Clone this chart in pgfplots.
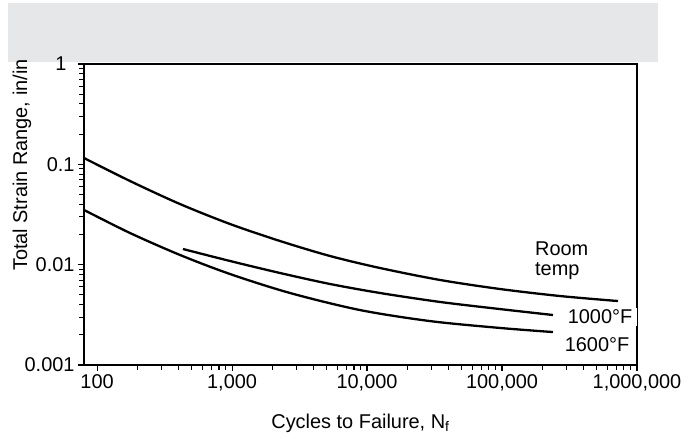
\documentclass[border=0pt]{standalone}
\usepackage{fontspec}
\setmainfont{Liberation Sans}
\usepackage{pgfplots}
\pgfplotsset{compat=1.18}
\definecolor{band}{HTML}{E6E7E8}
\begin{document}
\begin{tikzpicture}[font=\fontsize{20}{22}\selectfont]
\useasboundingbox (-84bp,-74bp) rectangle (615bp,365bp);
\fill[band] (-76bp,303bp) rectangle (574bp,362bp);
\begin{axis}[
  at={(0,0)}, anchor=south west,
  scale only axis, width=553bp, height=301bp,
  xmode=log, ymode=log,
  xmin=80, xmax=1e6, ymin=0.001, ymax=1,
  axis line style={line width=2bp},
  tick align=outside, xtick pos=left, ytick pos=left,
  major tick length=6bp, minor tick length=5bp,
  tick style={black, line width=1.1bp},
  xtick={100,1000,10000,100000,1000000},
  xticklabels={100,{1,000},{10,000},{100,000},{1,000,000}},
  ytick={0.001,0.01,0.1,1},
  yticklabels={0.001,0.01,0.1,{1\hspace*{8bp}}},
  xlabel={Cycles to Failure, N\textsubscript{f}},
  ylabel={Total Strain Range, in/in},
  xlabel style={at={(axis description cs:0.5,-0.195)}, anchor=center},
  ylabel style={at={(axis description cs:-0.112,0.664)}, anchor=center},
  clip=false,
]
\addplot[black, line width=2.3bp, smooth] coordinates {
(80,0.1156) (175.4,0.0682) (411.6,0.0402) (965.4,0.02543) (2266,0.01721)
(5316,0.01220) (12480,0.00926) (34720,0.00704) (96600,0.00572)
(268800,0.00487) (723000,0.00434)};
\addplot[black, line width=2.3bp, smooth] coordinates {
(433,0.01432) (965.4,0.01088) (2266,0.00826) (5316,0.00642) (12480,0.00522)
(34720,0.00425) (96600,0.00361) (238500,0.00315)};
\addplot[black, line width=2.3bp, smooth] coordinates {
(80,0.0351) (175.4,0.02068) (411.6,0.01249) (965.4,0.00807) (2687,0.00522)
(8868,0.00353) (29270,0.00274) (96600,0.00234) (238500,0.00213)};
\node[anchor=west, align=left, inner sep=0pt, font=\fontsize{20}{20}\selectfont] at (axis cs:175500,0.01088) {Room\\temp};
\node[fill=white, inner xsep=5bp, inner ysep=2bp] at (axis cs:531900,0.00301) {1000°F};
\node[inner sep=1bp] at (axis cs:505400,0.001582) {1600°F};
\end{axis}
\end{tikzpicture}
\end{document}
